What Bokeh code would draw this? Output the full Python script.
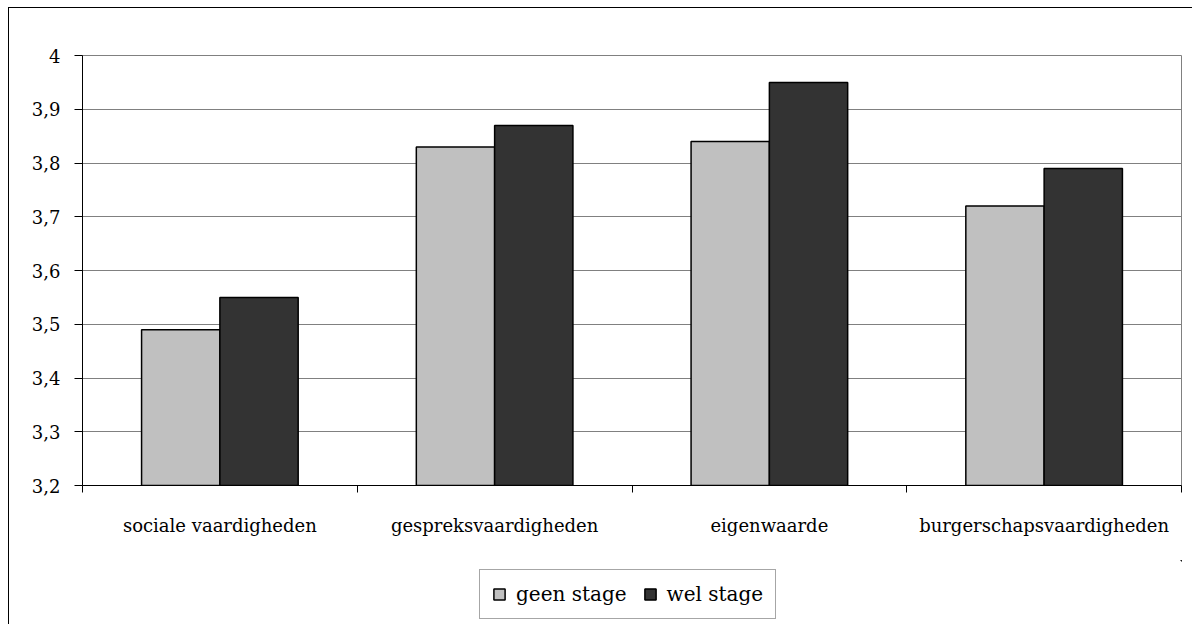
from bokeh.plotting import figure
from bokeh.layouts import column
from bokeh.models import (ColumnDataSource, FixedTicker, Legend, LegendItem, Range1d)
from bokeh.transform import dodge
from bokeh.embed import file_html
from bokeh.resources import INLINE

categories = ["sociale vaardigheden", "gespreksvaardigheden", "eigenwaarde", "burgerschapsvaardigheden"]
geen_stage = [3.49, 3.83, 3.84, 3.72]
wel_stage = [3.55, 3.87, 3.95, 3.79]
series_names = ["geen stage", "wel stage"]
series_colors = ["#C0C0C0", "#333333"]
y_ticks = [3.2, 3.3, 3.4, 3.5, 3.6, 3.7, 3.8, 3.9, 4.0]
y_tick_labels = ["3,2", "3,3", "3,4", "3,5", "3,6", "3,7", "3,8", "3,9", "4"]

FONT = "DejaVu Serif"

centers = [i + 0.5 for i in range(len(categories))]
boundaries = [float(i) for i in range(len(categories) + 1)]

source = ColumnDataSource(data=dict(x=centers, geen=geen_stage, wel=wel_stage, cat=categories))

p = figure(width=1183, height=552, output_backend="svg", toolbar_location=None,
           x_range=Range1d(0, len(categories)), y_range=Range1d(3.2, 4.0),
           min_border_left=73, min_border_right=11, min_border_top=47, min_border_bottom=75)
p.background_fill_color = "white"
p.border_fill_color = "white"
p.outline_line_color = "#808080"
p.outline_line_width = 1

bar_w = 0.285
r1 = p.vbar(x=dodge("x", -bar_w / 2), top="geen", bottom=3.2, width=bar_w, source=source,
            fill_color=series_colors[0], line_color="black", line_width=1.5)
r2 = p.vbar(x=dodge("x", bar_w / 2), top="wel", bottom=3.2, width=bar_w, source=source,
            fill_color=series_colors[1], line_color="black", line_width=1.5)

# y axis
p.yaxis.ticker = FixedTicker(ticks=y_ticks, minor_ticks=[])
p.yaxis.major_label_overrides = {t: l for t, l in zip(y_ticks, y_tick_labels)}
p.yaxis.major_tick_out = 8
p.yaxis.major_tick_in = 0
p.yaxis.minor_tick_line_color = None
p.yaxis.major_label_standoff = 14
p.yaxis.major_label_text_font = FONT
p.yaxis.major_label_text_font_size = "18px"
p.yaxis.major_label_text_color = "black"
p.yaxis.axis_line_color = "black"
p.yaxis.major_tick_line_color = "black"

# x axis
p.xaxis.ticker = FixedTicker(ticks=centers, minor_ticks=boundaries)
p.xaxis.major_label_overrides = {c: n for c, n in zip(centers, categories)}
p.xaxis.major_tick_out = 0
p.xaxis.major_tick_in = 0
p.xaxis.minor_tick_out = 7
p.xaxis.minor_tick_in = 0
p.xaxis.minor_tick_line_color = "black"
p.xaxis.major_label_standoff = 22
p.xaxis.major_label_text_font = FONT
p.xaxis.major_label_text_font_size = "18px"
p.xaxis.major_label_text_color = "black"
p.xaxis.axis_line_color = "black"

p.xgrid.grid_line_color = None
p.ygrid.ticker = FixedTicker(ticks=y_ticks)
p.ygrid.grid_line_color = "#808080"
p.ygrid.grid_line_width = 1

# legend strip (its frame is aligned with the chart's frame by the column layout)
p2 = figure(width=1183, height=64, output_backend="svg", toolbar_location=None,
            x_range=Range1d(-2, -1), y_range=Range1d(0, 1),
            x_axis_location=None, y_axis_location=None,
            min_border_left=0, min_border_right=0, min_border_top=0, min_border_bottom=0)
p2.grid.grid_line_color = None
p2.outline_line_color = None
p2.background_fill_color = "white"
p2.border_fill_color = "white"
# same bars, outside this strip's visible range; they only serve as legend glyphs
l1 = p2.vbar(x=dodge("x", -bar_w / 2), top="geen", bottom=3.2, width=bar_w, source=source,
             fill_color=series_colors[0], line_color="black", line_width=1.5)
l2 = p2.vbar(x=dodge("x", bar_w / 2), top="wel", bottom=3.2, width=bar_w, source=source,
             fill_color=series_colors[1], line_color="black", line_width=1.5)

legend = Legend(items=[LegendItem(label=series_names[0], renderers=[l1]),
                       LegendItem(label=series_names[1], renderers=[l2])],
                orientation="horizontal", location=(397, 5))
legend.label_text_font = FONT
legend.label_text_font_size = "20px"
legend.label_text_color = "black"
legend.glyph_width = 14
legend.glyph_height = 14
legend.label_height = 24
legend.label_standoff = 10
legend.spacing = 16
legend.padding = 12
legend.margin = 0
legend.border_line_color = "#4d4d4d"
legend.border_line_width = 1
legend.background_fill_color = "white"
p2.add_layout(legend)

layout = column(p, p2, spacing=0,
                styles={"margin-left": "8px", "margin-top": "7px",
                        "border-left": "1px solid #000000", "border-top": "1px solid #000000"})

open("out.html", "w").write(file_html(layout, INLINE))
